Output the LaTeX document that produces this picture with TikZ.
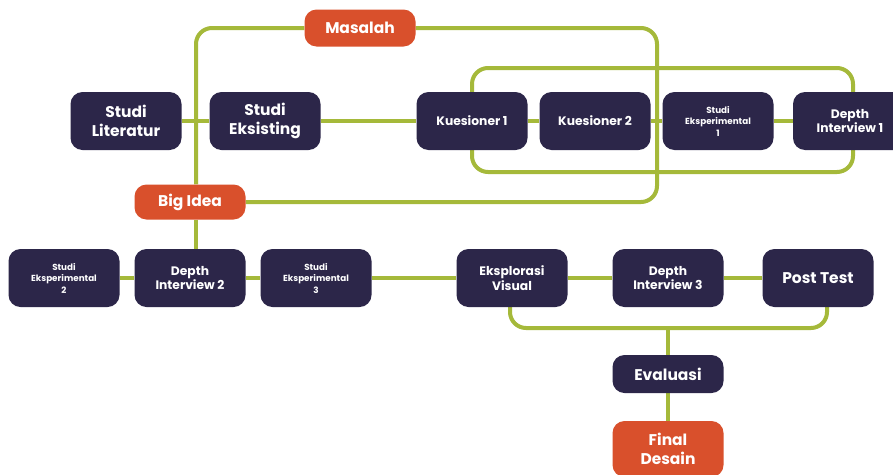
\documentclass[tikz,border=0pt]{standalone}
\usepackage{fontspec}
\setmainfont{Poppins}
\usetikzlibrary{backgrounds}

\definecolor{navy}{HTML}{2C2649}
\definecolor{rust}{HTML}{D9502C}
\definecolor{olive}{HTML}{A5B93A}

\begin{document}
\begin{tikzpicture}[x=1pt,y=-1pt,
                    main node/.style={rectangle,rounded corners=12pt,fill=navy,text=white,align=center,
                                      minimum width=111pt,minimum height=58pt,inner sep=1pt},
                    key node/.style={main node,fill=rust},
                    big text/.style={font=\bfseries\fontsize{15.5}{19}\selectfont},
                    mid text/.style={font=\bfseries\fontsize{12.3}{14.5}\selectfont},
                    small text/.style={font=\bfseries\fontsize{8.8}{11.5}\selectfont},
                    link/.style={draw=olive,line width=4pt,rounded corners=16pt}]

  \useasboundingbox (0,0) rectangle (893,474);

  % top row
  \node[main node,big text] (lit) at (126,121) {Studi\\Literatur};
  \node[main node,big text] (eks) at (265,121) {Studi\\Eksisting};
  \node[main node,mid text] (kues1) at (472,121) {Kuesioner 1};
  \node[main node,mid text] (kues2) at (595,121) {Kuesioner 2};
  \node[main node,small text] (eksp1) at (718,121) {Studi\\Eksperimental\\1};
  \node[main node,mid text,minimum width=114pt] (di1) at (850,121) {Depth\\Interview 1};

  \node[key node,big text,minimum height=37pt] (masalah) at (360,28) {Masalah};
  \node[key node,big text,minimum height=35pt] (bigidea) at (190,202) {Big Idea};

  % bottom row
  \node[main node,small text] (eksp2) at (64,278) {Studi\\Eksperimental\\2};
  \node[main node,mid text] (di2) at (190,278) {Depth\\Interview 2};
  \node[main node,small text] (eksp3) at (316,278) {Studi\\Eksperimental\\3};
  \node[main node,mid text] (visual) at (512,278) {Eksplorasi\\Visual};
  \node[main node,mid text] (di3) at (668,278) {Depth\\Interview 3};
  \node[main node,big text] (post) at (818,278) {Post Test};

  \node[main node,big text,minimum height=38pt] (eval) at (668,374) {Evaluasi};
  \node[key node,big text,minimum height=56pt] (final) at (668,449) {Final\\Desain};

  \coordinate (loopA) at (657,202);
  \coordinate (loopBtop) at (660,68);
  \coordinate (loopBbot) at (660,172);
  \coordinate (join) at (668,328);

  \begin{scope}[on background layer]
    \fill[white] (0,0) rectangle (893,474);
    \draw[link] (masalah.east) -| (loopA) -- (bigidea.east);
    \draw[link] (masalah.west) -| ([xshift=6pt]bigidea.north);
    \draw[link] (kues1.north) |- (loopBtop) -| ([xshift=3pt]di1.north);
    \draw[link] (kues1.south) |- (loopBbot) -| ([xshift=3pt]di1.south);
    \draw[link] (lit) -- (eks) -- (kues1) -- (kues2) -- (eksp1) -- (di1);
    \draw[link] ([xshift=6pt]bigidea.south) -- ([xshift=6pt]di2.north);
    \draw[link] (eksp2) -- (di2) -- (eksp3) -- (visual) -- (di3) -- (post);
    \draw[link] ([xshift=-2pt]visual.south) |- (join) -| ([xshift=9pt]post.south);
    \draw[link] (join) -- (eval) -- (final);
  \end{scope}
\end{tikzpicture}
\end{document}
